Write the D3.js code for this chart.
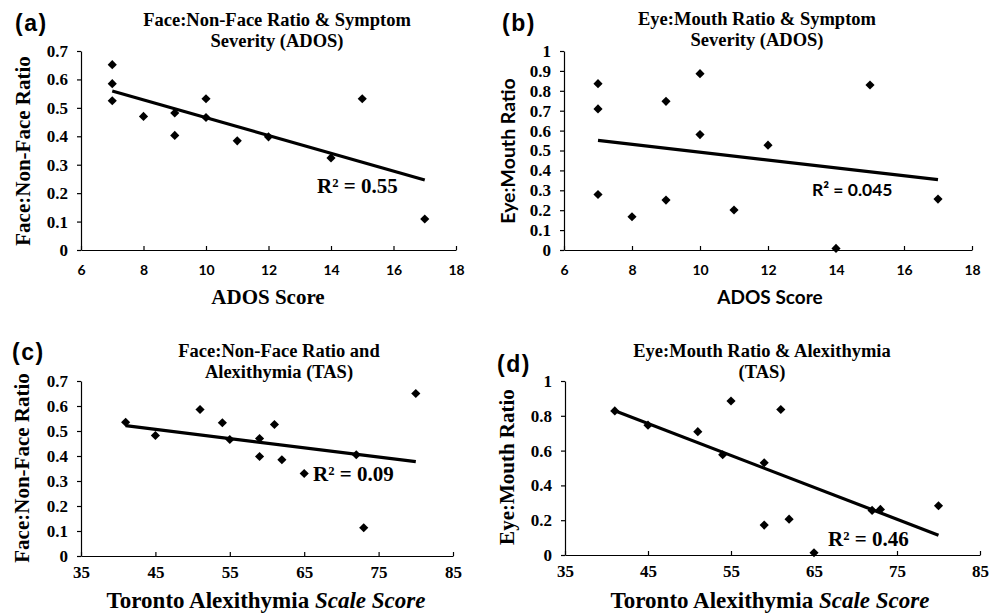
<!DOCTYPE html>
<html>
<head>
<meta charset="utf-8">
<script src="https://cdn.jsdelivr.net/npm/d3@7"></script>
<style>
  body { margin: 0; background: #fff; }
  svg { display: block; }
  .serif { font-family: "Liberation Serif", "Times New Roman", serif; font-weight: bold; }
  .sans { font-family: Lato, "Open Sans", sans-serif; font-weight: bold; }
</style>
</head>
<body>
<div id="chart"></div>
<script>
// Values (13 participants)
var adosScore = [7, 7, 7, 8, 9, 9, 10, 10, 11, 12, 14, 15, 17];
var faceRatioAdos = [0.652, 0.585, 0.525, 0.47, 0.482, 0.403, 0.532, 0.466, 0.384, 0.398, 0.324, 0.532, 0.109];
var eyeMouthAdos = [0.836, 0.709, 0.279, 0.167, 0.747, 0.251, 0.886, 0.58, 0.201, 0.527, 0.008, 0.829, 0.256];

var tasScore = [41, 45, 51, 54, 55, 59, 59, 61, 62, 65, 72, 73, 80];
var faceRatioTas = [0.535, 0.482, 0.586, 0.533, 0.466, 0.47, 0.398, 0.526, 0.385, 0.33, 0.405, 0.113, 0.65];
var eyeMouthTas = [0.828, 0.746, 0.709, 0.576, 0.885, 0.53, 0.172, 0.836, 0.206, 0.013, 0.256, 0.262, 0.283];

// Tick labels
var adosTicks = [6, 8, 10, 12, 14, 16, 18];
var tasTicks = [35, 45, 55, 65, 75, 85];
var faceTicks = [0, 0.1, 0.2, 0.3, 0.4, 0.5, 0.6, 0.7];
var eyeTicksFine = [0, 0.1, 0.2, 0.3, 0.4, 0.5, 0.6, 0.7, 0.8, 0.9, 1];
var eyeTicksCoarse = [0, 0.2, 0.4, 0.6, 0.8, 1];

var rSquared = ['0.55', '0.045', '0.09', '0.46'];

var panels = [
  {
    tag: '(a)', tagX: 15, tagY: 31,
    title: ['Face:Non-Face Ratio & Symptom', 'Severity (ADOS)'], titleX: 277, titleY: 26,
    x: adosScore, y: faceRatioAdos, xTicks: adosTicks, yTicks: faceTicks,
    xFont: 'sans', yFont: 'serif', xTitleFont: 'serif', yTitleFont: 'serif', rFont: 'serif',
    left: 81, right: 456, top: 51, bottom: 250,
    xTitle: 'ADOS Score', xTitleSize: 21, xTitleX: 268, xTitleY: 304,
    yTitle: 'Face:Non-Face Ratio', yTitleX: 23, yTitleY: 151,
    r2: rSquared[0], rX: 317, rY: 193
  },
  {
    tag: '(b)', tagX: 502, tagY: 31,
    title: ['Eye:Mouth Ratio & Symptom', 'Severity (ADOS)'], titleX: 757, titleY: 25,
    x: adosScore, y: eyeMouthAdos, xTicks: adosTicks, yTicks: eyeTicksFine,
    xFont: 'sans', yFont: 'serif', xTitleFont: 'sans', yTitleFont: 'sans', rFont: 'sans',
    left: 564, right: 972, top: 51, bottom: 250,
    xTitle: 'ADOS Score', xTitleSize: 19, xTitleX: 770, xTitleY: 304,
    yTitle: 'Eye:Mouth Ratio', yTitleX: 508, yTitleY: 151,
    r2: rSquared[1], rX: 812, rY: 196
  },
  {
    tag: '(c)', tagX: 12, tagY: 360,
    title: ['Face:Non-Face Ratio and', 'Alexithymia (TAS)'], titleX: 279, titleY: 357,
    x: tasScore, y: faceRatioTas, xTicks: tasTicks, yTicks: faceTicks,
    xFont: 'serif', yFont: 'serif', xTitleFont: 'serif', yTitleFont: 'serif', rFont: 'serif',
    left: 81, right: 453, top: 381, bottom: 556,
    xTitle: 'Toronto Alexithymia Scale Score', xTitleSize: 23, xTitleX: 266, xTitleY: 608,
    yTitle: 'Face:Non-Face Ratio', yTitleX: 22, yTitleY: 468,
    r2: rSquared[2], rX: 313, rY: 481
  },
  {
    tag: '(d)', tagX: 497, tagY: 372,
    title: ['Eye:Mouth Ratio & Alexithymia', '(TAS)'], titleX: 762, titleY: 357,
    x: tasScore, y: eyeMouthTas, xTicks: tasTicks, yTicks: eyeTicksCoarse,
    xFont: 'serif', yFont: 'serif', xTitleFont: 'serif', yTitleFont: 'serif', rFont: 'serif',
    left: 565, right: 980, top: 381, bottom: 555,
    xTitle: 'Toronto Alexithymia Scale Score', xTitleSize: 23, xTitleX: 770, xTitleY: 608,
    yTitle: 'Eye:Mouth Ratio', yTitleX: 507, yTitleY: 467,
    r2: rSquared[3], rX: 828, rY: 546
  }
];

var fontSizes = {
  serif: { tick: 17, axisTitle: 21, r2: 21 },
  sans: { tick: 14, axisTitle: 19.5, r2: 17.5 }
};

var svg = d3.select('#chart').append('svg').attr('width', 999).attr('height', 613);

panels.forEach(drawPanel);

// Least squares fit of y on x
function linearFit(xs, ys) {
  var mx = d3.mean(xs), my = d3.mean(ys);
  var sxy = d3.sum(xs, (x, i) => (x - mx) * (ys[i] - my));
  var sxx = d3.sum(xs, (x) => (x - mx) * (x - mx));
  var slope = sxy / sxx;
  return (x) => my + slope * (x - mx);
}

function drawPanel(p) {
  var g = svg.append('g');

  var xScale = d3.scaleLinear().domain(d3.extent(p.xTicks)).range([p.left, p.right]);
  var yScale = d3.scaleLinear().domain(d3.extent(p.yTicks)).range([p.bottom, p.top]);

  // panel tag
  g.append('text')
    .attr('x', p.tagX)
    .attr('y', p.tagY)
    .attr('font-size', 23)
    .attr('font-weight', 'bold')
    .attr('letter-spacing', 1.5)
    .attr('font-family', '"Liberation Sans", Arial, sans-serif')
    .text(p.tag);

  // title, two lines
  g.append('text')
    .attr('class', 'serif')
    .attr('text-anchor', 'middle')
    .attr('font-size', 18.5)
    .selectAll('tspan')
    .data(p.title)
    .join('tspan')
    .attr('x', p.titleX)
    .attr('y', (d, i) => p.titleY + i * 21)
    .text((d) => d);

  // y axis
  var yAxis = g.append('g')
    .attr('transform', `translate(${p.left},0)`)
    .call(d3.axisLeft(yScale).tickValues(p.yTicks).tickFormat(d3.format('')).tickSizeInner(4).tickSizeOuter(0).tickPadding(9));
  yAxis.selectAll('text')
    .attr('class', p.yFont)
    .attr('font-size', fontSizes[p.yFont].tick)
    .attr('fill', '#000');

  // x axis, ticks pointing into the plot
  var xAxis = g.append('g')
    .attr('transform', `translate(0,${p.bottom})`)
    .call(d3.axisBottom(xScale).tickValues(p.xTicks).tickSizeInner(-4).tickSizeOuter(0));
  xAxis.selectAll('text')
    .attr('class', p.xFont)
    .attr('font-size', fontSizes[p.xFont].tick)
    .attr('fill', '#000')
    .attr('y', p.bottom > 500 ? 22 : 25)
    .attr('dy', null);

  g.selectAll('.domain, .tick line').attr('stroke', '#000').attr('stroke-width', 1.2);
  g.selectAll('g').attr('font-family', null).attr('font-size', null);

  // axis titles
  g.append('text')
    .attr('class', p.xTitleFont)
    .attr('text-anchor', 'middle')
    .attr('x', p.xTitleX)
    .attr('y', p.xTitleY)
    .attr('font-size', p.xTitleSize)
    .call((t) => {
      var idx = p.xTitle.indexOf('Scale Score');
      if (idx < 0) {
        t.text(p.xTitle);
      } else {
        t.append('tspan').text(p.xTitle.slice(0, idx));
        t.append('tspan').attr('font-style', 'italic').text(p.xTitle.slice(idx));
      }
    });

  g.append('text')
    .attr('class', p.yTitleFont)
    .attr('text-anchor', 'middle')
    .attr('dy', '0.35em')
    .attr('transform', `translate(${p.yTitleX},${p.yTitleY}) rotate(-90)`)
    .attr('font-size', fontSizes[p.yTitleFont].axisTitle)
    .text(p.yTitle);

  // trend line
  var fit = linearFit(p.x, p.y);
  var xr = d3.extent(p.x);
  g.append('path')
    .attr('fill', 'none')
    .attr('stroke', '#000')
    .attr('stroke-width', 3.2)
    .attr('d', d3.line().x((d) => xScale(d)).y((d) => yScale(fit(d)))(xr));

  // points as diamonds
  var diamond = d3.symbol().type(d3.symbolSquare).size(42);
  g.append('g')
    .selectAll('path')
    .data(p.x.map((x, i) => [x, p.y[i]]))
    .join('path')
    .attr('d', diamond)
    .attr('fill', '#000')
    .attr('transform', (d) => `translate(${xScale(d[0])},${yScale(d[1])}) rotate(45)`);

  // R squared label
  g.append('text')
    .attr('class', p.rFont)
    .attr('x', p.rX)
    .attr('y', p.rY)
    .attr('font-size', fontSizes[p.rFont].r2)
    .text('R² = ' + p.r2);
}
</script>
</body>
</html>
